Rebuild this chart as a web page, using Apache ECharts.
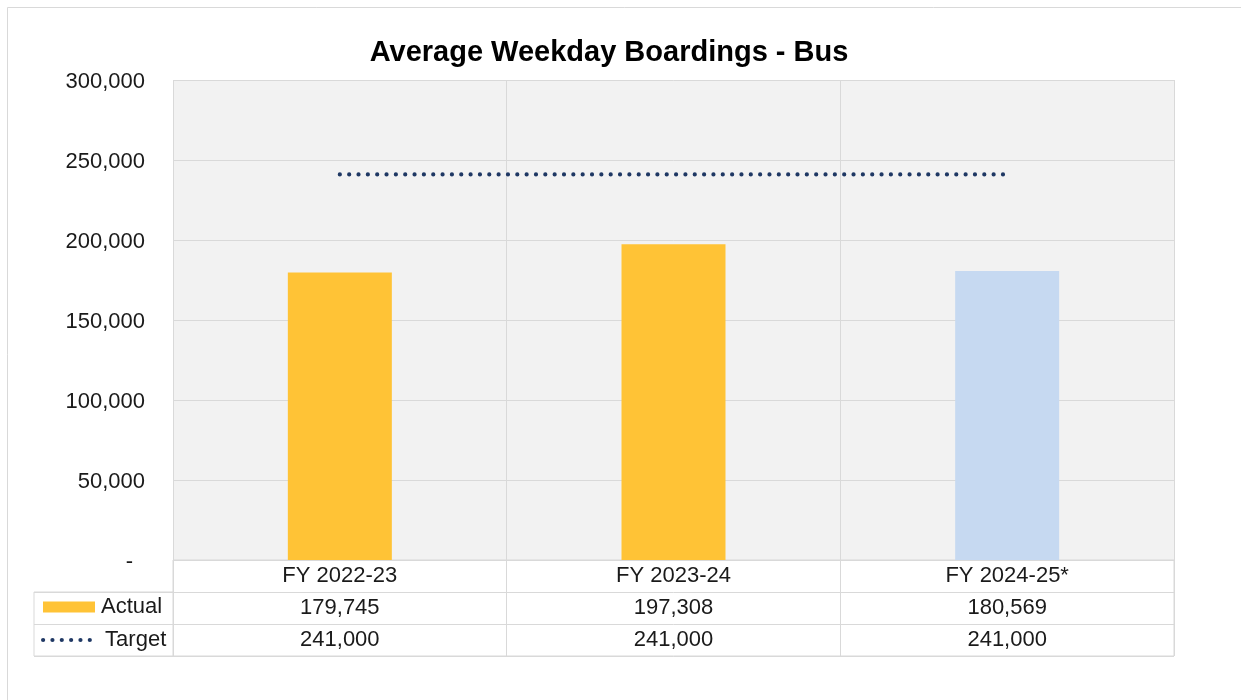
<!DOCTYPE html>
<html>
<head>
<meta charset="utf-8">
<script src="https://cdn.jsdelivr.net/npm/echarts@6/dist/echarts.min.js"></script>
<style>
html,body{margin:0;padding:0;background:#fff;}
#chart{width:1241px;height:700px;}
</style>
</head>
<body>
<div id="chart"></div>
<script>
// ---- data ----
var categories = ['FY 2022-23', 'FY 2023-24', 'FY 2024-25*'];
var actualValues = [179745, 197308, 180569];
var targetValues = [241000, 241000, 241000];
var barColors = ['#FFC336', '#FFC336', '#C6D9F1'];
var seriesNames = ['Actual', 'Target'];
var yTicks = { min: 0, max: 300000, interval: 50000 };

var FONT = '"Liberation Sans", Arial, sans-serif';
var TXT = '#1a1a1a';
var LINE = '#d9d9d9';
var NAVY = '#1F3864';
var DOTS = { color: NAVY, width: 4.2, type: [0.01, 9.33], cap: 'round' };

function fmt(v) {
  return v.toLocaleString('en-US');
}

// table cell labels built from the arrays
var tableData = [];
categories.forEach(function (c, i) {
  tableData.push({ name: c, value: [i, 0] });
  tableData.push({ name: fmt(actualValues[i]), value: [i, 1] });
  tableData.push({ name: fmt(targetValues[i]), value: [i, 2] });
});

var chart = echarts.init(document.getElementById('chart'), null, { renderer: 'canvas' });

var option = {
  backgroundColor: '#fff',
  animation: false,
  textStyle: { fontFamily: FONT },
  title: {
    text: 'Average Weekday Boardings - Bus',
    left: 604,
    textAlign: 'center',
    top: 33,
    textStyle: { fontFamily: FONT, fontWeight: 'bold', fontSize: 29, color: '#000' }
  },
  graphic: [{
    type: 'rect',
    shape: { x: 7.5, y: 7.5, width: 1400, height: 900 },
    style: { fill: 'none', stroke: '#d9d9d9', lineWidth: 1 },
    silent: true,
    z: -10
  }],
  legend: [{
    data: [seriesNames[0]],
    icon: 'rect',
    left: 43,
    top: 596,
    padding: 0,
    itemWidth: 52,
    itemHeight: 11,
    selectedMode: false,
    textStyle: { fontFamily: FONT, fontSize: 22, color: TXT, padding: [0, 0, 0, 1] }
  }, {
    data: [seriesNames[1]],
    left: 41,
    top: 629,
    padding: 0,
    itemWidth: 52,
    itemHeight: 14,
    selectedMode: false,
    itemStyle: { color: 'transparent', opacity: 0, borderWidth: 0 },
    lineStyle: DOTS,
    textStyle: { fontFamily: FONT, fontSize: 22, color: TXT, padding: [0, 0, 0, 5] }
  }],
  grid: [{
    left: 173, top: 80, width: 1001, height: 480,
    show: true, backgroundColor: '#F2F2F2', borderWidth: 0,
    outerBoundsMode: 'none', containLabel: false
  }, {
    left: 173, top: 560, width: 1001, height: 96,
    show: true, backgroundColor: '#fff', borderColor: LINE, borderWidth: 1,
    outerBoundsMode: 'none', containLabel: false
  }, {
    left: 34, top: 592, width: 139, height: 64,
    show: true, backgroundColor: '#fff', borderColor: LINE, borderWidth: 1,
    outerBoundsMode: 'none', containLabel: false
  }],
  xAxis: [{
    type: 'category', gridIndex: 0, data: categories,
    axisLine: { show: false }, axisTick: { show: false }, axisLabel: { show: false },
    splitLine: { show: true, interval: 0, lineStyle: { color: LINE, width: 1 } }
  }, {
    type: 'category', gridIndex: 1, data: categories,
    axisLine: { show: false }, axisTick: { show: false }, axisLabel: { show: false },
    splitLine: { show: true, interval: 0, lineStyle: { color: LINE, width: 1 } }
  }, {
    type: 'category', gridIndex: 2, data: [''],
    axisLine: { show: false }, axisTick: { show: false }, axisLabel: { show: false },
    splitLine: { show: false }
  }],
  yAxis: [{
    type: 'value', gridIndex: 0,
    min: yTicks.min, max: yTicks.max, interval: yTicks.interval,
    axisLine: { show: false }, axisTick: { show: false },
    axisLabel: {
      margin: 28, fontSize: 22, color: TXT, fontFamily: FONT,
      padding: [4, 0, 0, 0],
      formatter: function (v) { return v === 0 ? '{z|-}' : fmt(v); },
      rich: { z: { fontSize: 22, color: TXT, fontFamily: FONT, padding: [0, 12, 0, 0] } }
    },
    splitLine: { show: true, lineStyle: { color: LINE, width: 1 } }
  }, {
    type: 'category', gridIndex: 1, inverse: true, data: ['', seriesNames[0], seriesNames[1]],
    axisLine: { show: false }, axisTick: { show: false }, axisLabel: { show: false },
    splitLine: { show: true, interval: 0, lineStyle: { color: LINE, width: 1 } }
  }, {
    type: 'category', gridIndex: 2, inverse: true, data: [seriesNames[0], seriesNames[1]],
    axisLine: { show: false }, axisTick: { show: false }, axisLabel: { show: false },
    splitLine: { show: true, interval: 0, lineStyle: { color: LINE, width: 1 } }
  }],
  series: [{
    name: seriesNames[0],
    type: 'bar',
    xAxisIndex: 0, yAxisIndex: 0,
    barWidth: 104,
    itemStyle: { color: barColors[0] },
    data: actualValues.map(function (v, i) {
      return { value: v, itemStyle: { color: barColors[i] } };
    }),
    z: 2
  }, {
    name: seriesNames[1],
    type: 'line',
    xAxisIndex: 0, yAxisIndex: 0,
    symbol: 'none',
    showSymbol: false,
    lineStyle: DOTS,
    itemStyle: { color: NAVY },
    data: targetValues,
    z: 3
  }, {
    type: 'scatter',
    xAxisIndex: 1, yAxisIndex: 1,
    symbolSize: 1,
    itemStyle: { color: 'rgba(0,0,0,0)' },
    silent: true,
    label: {
      show: true, position: 'inside', formatter: '{b}', opacity: 1,
      fontSize: 22, color: TXT, fontFamily: FONT, textBorderWidth: 0
    },
    data: tableData
  }]
};

chart.setOption(option);
</script>
</body>
</html>
